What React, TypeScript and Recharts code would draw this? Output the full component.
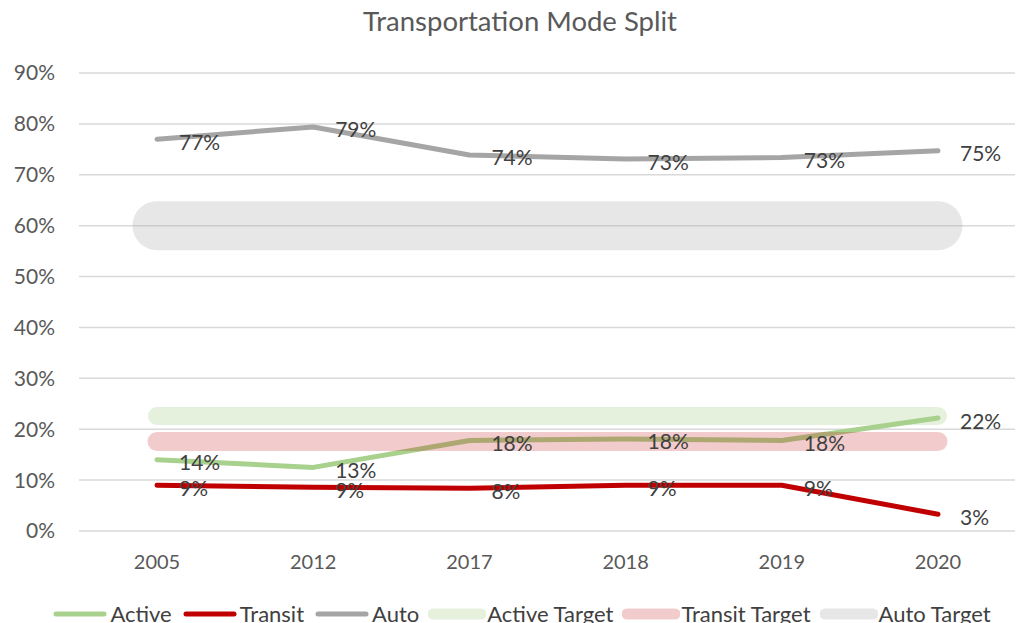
import { LineChart, Line, XAxis, YAxis, CartesianGrid, Legend, LabelList } from 'recharts'

const years = ['2005', '2012', '2017', '2018', '2019', '2020']
const active = [0.14, 0.125, 0.178, 0.181, 0.178, 0.222]
const transit = [0.09, 0.086, 0.084, 0.09, 0.09, 0.033]
const auto = [0.77, 0.794, 0.739, 0.731, 0.734, 0.747]
const activeTarget = [0.226, 0.226, 0.226, 0.226, 0.226, 0.226]
const transitTarget = [0.176, 0.176, 0.176, 0.176, 0.176, 0.176]
const autoTarget = [0.6, 0.6, 0.6, 0.6, 0.6, 0.6]
const yTicks = [0, 0.1, 0.2, 0.3, 0.4, 0.5, 0.6, 0.7, 0.8, 0.9]

const legendItems = [
    { name: 'Active', color: '#a9d18e', opacity: 1, width: 5 },
    { name: 'Transit', color: '#c00000', opacity: 1, width: 5 },
    { name: 'Auto', color: '#a5a5a5', opacity: 1, width: 5 },
    { name: 'Active Target', color: '#a9d18e', opacity: 0.3, width: 11 },
    { name: 'Transit Target', color: '#c00000', opacity: 0.2, width: 11 },
    { name: 'Auto Target', color: '#a5a5a5', opacity: 0.27, width: 11 },
]

const data = years.map((year, i) => ({
    year,
    active: active[i],
    transit: transit[i],
    auto: auto[i],
    activeTarget: activeTarget[i],
    transitTarget: transitTarget[i],
    autoTarget: autoTarget[i],
}))

const FONT = 'Lato, "Open Sans", sans-serif'

const pct = (v: number) => Math.round(v * 100) + '%'

const renderLabel = (props: any) => {
    const { x, y, value } = props
    return (
        <text x={x + 22} y={y + 2} dominantBaseline="central" fill="#404040" fontSize={21} fontFamily={FONT}>
            {pct(value)}
        </text>
    )
}

function LegendRow() {
    return (
        <div style={{ display: 'flex', justifyContent: 'center', paddingLeft: 30, fontFamily: FONT, fontSize: 22, color: '#404040', lineHeight: '26px' }}>
            {legendItems.map((item) => (
                <div key={item.name} style={{ display: 'flex', alignItems: 'center', marginRight: 9 }}>
                    <svg width={58} height={16}>
                        <line x1={5} y1={8} x2={53} y2={8} stroke={item.color} strokeOpacity={item.opacity}
                            strokeWidth={item.width} strokeLinecap="round" />
                    </svg>
                    <span style={{ marginLeft: 1 }}>{item.name}</span>
                </div>
            ))}
        </div>
    )
}

export default function App() {
    return (
        <div style={{ position: 'absolute', left: 0, top: 0, width: 1021, height: 623, background: '#fff', overflow: 'hidden' }}>
            <div style={{ position: 'absolute', top: 4, left: 19, width: 1002, textAlign: 'center', fontFamily: FONT, fontSize: 27.5, color: '#595959' }}>
                Transportation Mode Split
            </div>
            <LineChart width={1021} height={623} data={data} margin={{ top: 73, right: 6, bottom: 52, left: 0 }}>
                <CartesianGrid vertical={false} stroke="#d9d9d9" strokeWidth={1.5} />
                <XAxis dataKey="year" axisLine={false} tickLine={false} tickSize={0} tickMargin={24} height={40}
                    padding={{ left: 78, right: 77 }}
                    tick={{ fill: '#595959', fontSize: 20, fontFamily: FONT }} />
                <YAxis domain={[0, 0.9]} ticks={yTicks} tickFormatter={pct} axisLine={false} tickLine={false}
                    tickSize={0} tickMargin={24} width={79} interval={0}
                    tick={{ fill: '#595959', fontSize: 21, fontFamily: FONT }} />
                <Legend layout="horizontal" verticalAlign="middle" align="center" content={() => <LegendRow />}
                    wrapperStyle={{ top: 601, left: 0, width: 1021 }} />
                <Line dataKey="active" name="Active" stroke="#a9d18e" strokeWidth={5} dot={false} activeDot={false}
                    strokeLinecap="round" strokeLinejoin="round" isAnimationActive={false}>
                    <LabelList dataKey="active" content={renderLabel} />
                </Line>
                <Line dataKey="transit" name="Transit" stroke="#c00000" strokeWidth={5} dot={false} activeDot={false}
                    strokeLinecap="round" strokeLinejoin="round" isAnimationActive={false}>
                    <LabelList dataKey="transit" content={renderLabel} />
                </Line>
                <Line dataKey="auto" name="Auto" stroke="#a5a5a5" strokeWidth={5} dot={false} activeDot={false}
                    strokeLinecap="round" strokeLinejoin="round" isAnimationActive={false}>
                    <LabelList dataKey="auto" content={renderLabel} />
                </Line>
                <Line dataKey="activeTarget" name="Active Target" stroke="#a9d18e" strokeOpacity={0.3} strokeWidth={18}
                    dot={false} activeDot={false} strokeLinecap="round" isAnimationActive={false} />
                <Line dataKey="transitTarget" name="Transit Target" stroke="#c00000" strokeOpacity={0.2} strokeWidth={19}
                    dot={false} activeDot={false} strokeLinecap="round" isAnimationActive={false} />
                <Line dataKey="autoTarget" name="Auto Target" stroke="#a5a5a5" strokeOpacity={0.27} strokeWidth={49}
                    dot={false} activeDot={false} strokeLinecap="round" isAnimationActive={false} />
            </LineChart>
        </div>
    )
}
